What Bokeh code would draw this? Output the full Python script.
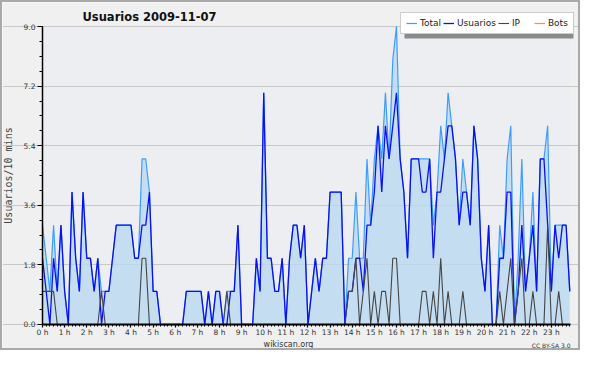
from bokeh.plotting import figure
from bokeh.models import (ColumnDataSource, FixedTicker, Legend, LegendItem, Label,
                          BoxAnnotation, Range1d, PrintfTickFormatter)
from bokeh.embed import file_html
from bokeh.resources import INLINE

# 10-minute slots over the day (144 slots)
total = [
    3, 2, 1, 3, 1, 3,   1, 0, 4, 2, 1, 4,   2, 2, 1, 2, 1, 1,   1, 2, 3, 3, 3, 3,
    3, 2, 2, 5, 5, 4,   1, 1, 0, 0, 0, 0,   0, 0, 0, 1, 1, 1,   1, 1, 0, 1, 0, 1,
    1, 0, 1, 1, 1, 3,   0, 0, 0, 0, 2, 1,   7, 2, 2, 1, 1, 2,   0, 2, 3, 3, 2, 3,
    0, 1, 2, 1, 2, 2,   4, 4, 4, 4, 0, 2,   2, 4, 2, 2, 5, 3,   5, 6, 5, 7, 5, 8,
    9, 5, 4, 2, 5, 5,   5, 5, 5, 5, 3, 4,   6, 5, 7, 6, 5, 3,   5, 4, 3, 6, 5, 2,
    1, 3, 0, 0, 3, 2,   5, 6, 0, 2, 5, 1,   2, 4, 1, 5, 5, 6,   1, 3, 3, 3, 3, 1,
]
usuarios = [
    2, 1, 0, 2, 1, 3,   1, 0, 4, 2, 1, 4,   2, 2, 1, 2, 0, 1,   1, 2, 3, 3, 3, 3,
    3, 2, 2, 3, 3, 4,   1, 1, 0, 0, 0, 0,   0, 0, 0, 1, 1, 1,   1, 1, 0, 1, 0, 1,
    1, 0, 0, 1, 1, 3,   0, 0, 0, 0, 2, 1,   7, 2, 2, 1, 1, 2,   0, 2, 3, 3, 2, 3,
    0, 1, 2, 1, 2, 2,   4, 4, 4, 4, 0, 1,   1, 2, 2, 1, 3, 3,   4, 6, 4, 6, 5, 6,
    7, 5, 4, 2, 5, 5,   5, 4, 4, 5, 2, 4,   4, 5, 6, 6, 5, 3,   4, 4, 3, 6, 5, 2,
    1, 3, 0, 0, 2, 2,   4, 4, 0, 1, 3, 1,   2, 3, 1, 5, 5, 3,   1, 3, 2, 3, 3, 1,
]
ip = [
    1, 1, 1, 1, 0, 0,   0, 0, 0, 0, 0, 0,   0, 0, 0, 0, 1, 0,   0, 0, 0, 0, 0, 0,
    0, 0, 0, 2, 2, 0,   0, 0, 0, 0, 0, 0,   0, 0, 0, 0, 0, 0,   0, 0, 0, 0, 0, 0,
    0, 0, 1, 0, 0, 0,   0, 0, 0, 0, 0, 0,   0, 0, 0, 0, 0, 0,   0, 0, 0, 0, 0, 0,
    0, 0, 0, 0, 0, 0,   0, 0, 0, 0, 0, 1,   1, 2, 0, 1, 2, 0,   1, 0, 1, 1, 0, 2,
    2, 0, 0, 0, 0, 0,   0, 1, 1, 0, 1, 0,   2, 0, 1, 0, 0, 0,   1, 0, 0, 0, 0, 0,
    0, 0, 0, 0, 1, 0,   1, 2, 0, 1, 2, 0,   0, 1, 0, 0, 0, 3,   0, 0, 1, 0, 0, 0,
]
bots = [0] * 144

hour_labels = ["0 h", "1 h", "2 h", "3 h", "4 h", "5 h", "6 h", "7 h", "8 h", "9 h",
               "10 h", "11 h", "12 h", "13 h", "14 h", "15 h", "16 h", "17 h", "18 h",
               "19 h", "20 h", "21 h", "22 h", "23 h"]
y_ticks = [0.0, 1.8, 3.6, 5.4, 7.2, 9.0]

slots = list(range(len(total)))
src = ColumnDataSource(dict(slot=slots, total=total, usuarios=usuarios, ip=ip,
                            bots=bots, zero=[0] * len(total)))

X_END = 143.2   # last slot sits on the right edge of the plot area
Y_TOP = 9.0

p = figure(width=580, height=350, output_backend="svg", toolbar_location=None,
           title_location=None,
           x_range=Range1d(-10.85, 146.45), y_range=Range1d(-0.846, 9.725),
           min_border_left=0, min_border_right=0, min_border_top=0,
           min_border_bottom=0)
p.styles = {"border": "2px solid #a9a9a9"}
p.background_fill_color = "#f0f0f0"
p.border_fill_color = "#f0f0f0"
p.outline_line_color = None

# plot area background
p.add_layout(BoxAnnotation(left=0, right=X_END, bottom=0, top=Y_TOP, level="image",
                           fill_color="#eceef1", fill_alpha=1, line_color=None))

p.varea(x="slot", y1="zero", y2="total", source=src, fill_color="#bbd8f0", fill_alpha=0.8)
r_total = p.line("slot", "total", source=src, line_color="#3d9dff", line_width=1.2)
r_us = p.line("slot", "usuarios", source=src, line_color="#0a10f5", line_width=1.3)
r_ip = p.line("slot", "ip", source=src, line_color="#454545", line_width=1.1)
r_bots = p.line("slot", "bots", source=src, line_color="#ff9c00", line_width=1.2)

# grid (only inside the plot area)
p.xgrid.visible = False
p.ygrid.grid_line_color = "#c8c8c8"
p.ygrid.grid_line_width = 1
p.ygrid.bounds = (0, X_END)

# y axis drawn at x = 0
p.yaxis.fixed_location = 0
p.yaxis.bounds = (0, Y_TOP)
p.yaxis.ticker = FixedTicker(ticks=y_ticks, minor_ticks=[0.45 * k for k in range(21)])
p.yaxis.formatter = PrintfTickFormatter(format="%.1f")
p.yaxis.axis_label = "Usuarios/10 mins"
p.yaxis.axis_label_text_font = "DejaVu Sans Mono"
p.yaxis.axis_label_text_font_style = "normal"
p.yaxis.axis_label_text_font_size = "10px"
p.yaxis.axis_label_standoff = 7
p.yaxis.major_label_text_font = "DejaVu Sans"
p.yaxis.major_label_text_font_size = "7.5px"
p.yaxis.major_label_text_color = "#333333"
p.yaxis.major_label_standoff = 2
p.yaxis.major_tick_in = 0
p.yaxis.major_tick_out = 5
p.yaxis.minor_tick_in = 0
p.yaxis.minor_tick_out = 3
p.yaxis.axis_line_width = 1.5
p.yaxis.major_tick_line_width = 1.2

# x axis drawn at y = 0
hour_ticks = [6 * i for i in range(len(hour_labels))]
p.xaxis.fixed_location = 0
p.xaxis.bounds = (0, X_END)
p.xaxis.ticker = FixedTicker(ticks=hour_ticks, minor_ticks=slots)
p.xaxis.major_label_overrides = {t: lab for t, lab in zip(hour_ticks, hour_labels)}
p.xaxis.major_label_text_font = "DejaVu Sans"
p.xaxis.major_label_text_font_size = "7.5px"
p.xaxis.major_label_text_color = "#333333"
p.xaxis.major_label_standoff = 1
p.xaxis.major_tick_in = 0
p.xaxis.major_tick_out = 3
p.xaxis.minor_tick_in = 0
p.xaxis.minor_tick_out = 2
p.xaxis.axis_line_width = 2
p.xaxis.major_tick_line_width = 1.2

# title
p.add_layout(Label(x=80, y=336, x_units="screen", y_units="screen",
                   text="Usuarios  2009-11-07", text_baseline="middle",
                   text_font="DejaVu Sans", text_font_style="bold",
                   text_font_size="11.5px", text_color="#111111"))

# legend with shadow
shadow = BoxAnnotation(left=402, right=571, bottom=314, top=332,
                       left_units="screen", right_units="screen",
                       bottom_units="screen", top_units="screen",
                       fill_color="#8a8a8a", fill_alpha=1, line_color=None)
p.add_layout(shadow)
legend = Legend(items=[LegendItem(label="Total", renderers=[r_total]),
                       LegendItem(label="Usuarios", renderers=[r_us]),
                       LegendItem(label="IP", renderers=[r_ip]),
                       LegendItem(label="Bots", renderers=[r_bots])],
                orientation="horizontal", location=(398, 318))
legend.label_text_font = "DejaVu Sans"
legend.label_text_font_size = "9px"
legend.label_text_color = "#222222"
legend.glyph_width = 11
legend.glyph_height = 8
legend.label_height = 8
legend.label_standoff = 3
legend.spacing = 2
legend.padding = 5
legend.margin = 0
legend.border_line_color = "#9a9a9a"
legend.border_line_width = 1.5
legend.background_fill_color = "white"
legend.background_fill_alpha = 1
p.add_layout(legend)

# footer
p.add_layout(Label(x=286, y=8, x_units="screen", y_units="screen",
                   text="wikiscan.org", text_align="center", text_baseline="middle",
                   text_font="DejaVu Sans", text_font_size="8px", text_color="#333333"))
p.add_layout(Label(x=568, y=7, x_units="screen", y_units="screen",
                   text="CC BY-SA 3.0", text_align="right", text_baseline="middle",
                   text_font="DejaVu Sans", text_font_size="6px", text_color="#333333"))

open("out.html", "w").write(file_html(p, INLINE))
